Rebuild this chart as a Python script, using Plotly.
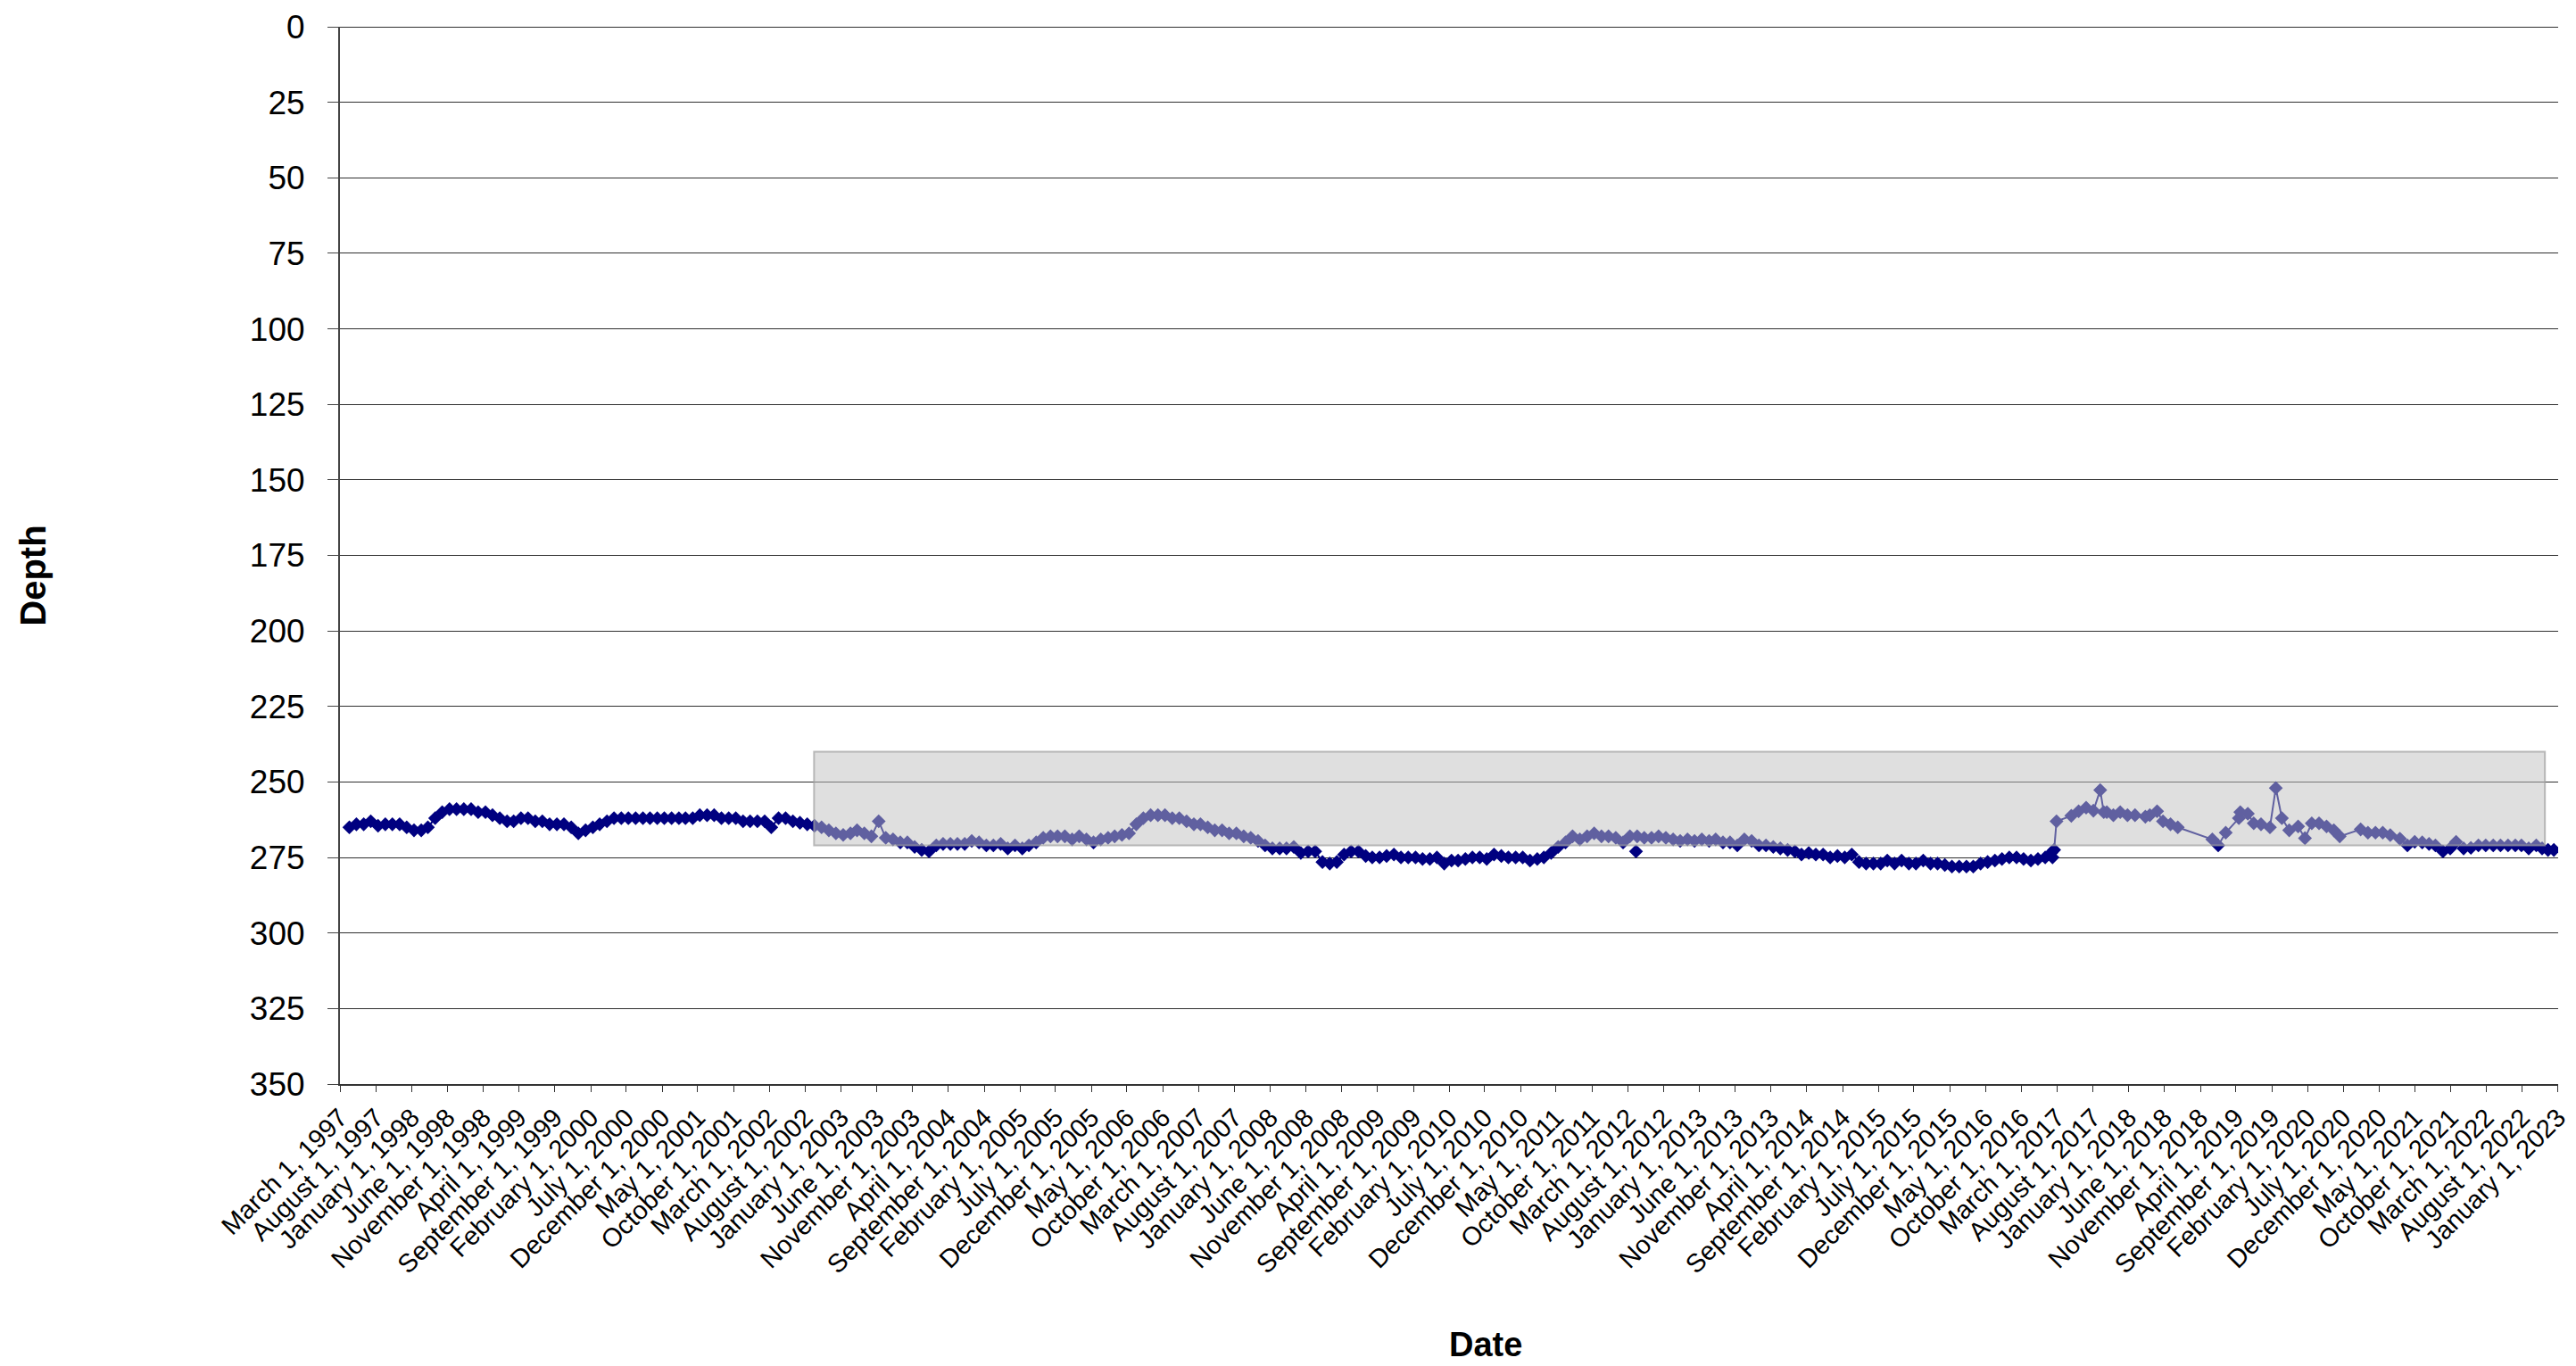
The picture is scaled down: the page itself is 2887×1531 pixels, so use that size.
import pandas as pd
import plotly.graph_objects as go

# ---------------- data ----------------
# Regular monthly readings, March 1997 .. January 2017
monthly_start = "1997-03-10"
depth_monthly = [
    265, 264, 264, 263, 264.5, 264, 264, 264, 265, 266, 266, 265, 262, 260, 259, 259, 259, 259, 260, 260,
    261, 262, 263, 263, 262, 262, 263, 263, 264, 264, 264, 265, 267, 266, 265, 264, 263, 262, 262, 262,
    262, 262, 262, 262, 262, 262, 262, 262, 262, 261, 261, 261, 262, 262, 262, 263, 263, 263, 263, 265,
    262, 262, 263, 263.5, 264, 264.5, 265, 266, 267, 267.5, 267, 266, 267, 268, 263, 268.5, 269, 270, 270, 271.5,
    272.5, 273, 271, 270.5, 270.5, 270.5, 270.5, 269.5, 270, 271, 271, 270.5, 272, 271, 272, 271, 270, 268.5, 268, 268,
    268, 269, 268, 269, 270, 269, 268.5, 268, 267.5, 267, 264, 262, 261, 261, 261, 262, 262, 263, 264, 264,
    265, 266, 266, 267, 267, 268, 268.5, 269.5, 271, 272, 272, 272, 271.5, 273.5, 273, 273, 276.5, 277, 276.5, 274,
    273, 273, 274.5, 275, 275, 274.5, 274, 275, 275, 275, 275.5, 275.5, 275, 277, 276, 276, 275.5, 275, 275, 275.5,
    274, 274.5, 275, 275, 275, 276, 275.5, 275, 273.5, 271.5, 270, 268, 269, 268, 267, 268, 268, 268.5, 270, 268,
    268, 268.5, 268.5, 268, 268.5, 269, 269.5, 269, 269.5, 269, 269.5, 269, 270, 270, 271, 269, 269.5, 271, 271, 271.5,
    272, 272.5, 273, 274, 273.5, 274, 274, 275, 274.5, 275, 274, 276.5, 277, 277, 277, 276, 277, 276, 277, 277,
    276, 277, 277, 277.5, 278, 278, 278, 278, 277, 276.5, 276, 275.5, 275, 275, 275.5, 276, 275.5, 275, 275,
]

# Irregular readings from 2017 onwards
dates_recent = [
    "2017-02-04", "2017-02-17", "2017-02-27", "2017-05-01", "2017-06-01", "2017-07-03", "2017-08-03",
    "2017-09-01", "2017-09-16", "2017-09-29", "2017-10-27", "2017-11-25", "2017-12-26", "2018-01-27",
    "2018-03-12", "2018-03-31", "2018-05-01", "2018-05-26", "2018-06-27", "2018-07-28", "2018-12-22",
    "2019-01-16", "2019-02-17", "2019-04-14", "2019-04-20", "2019-05-22", "2019-06-16", "2019-07-17",
    "2019-08-24", "2019-09-18", "2019-10-14", "2019-11-14", "2019-12-22", "2020-01-20", "2020-02-18",
    "2020-03-20", "2020-04-21", "2020-05-22", "2020-06-16", "2020-09-13", "2020-10-14", "2020-11-15",
    "2020-12-16", "2021-01-17", "2021-02-27", "2021-03-31", "2021-05-01", "2021-06-02", "2021-07-01",
    "2021-07-28", "2021-08-29", "2021-09-29", "2021-10-24", "2021-11-25", "2021-12-26", "2022-01-27",
    "2022-02-27", "2022-03-31", "2022-05-01", "2022-06-02", "2022-07-03", "2022-07-29", "2022-08-29",
    "2022-09-30", "2022-10-25", "2022-11-19", "2022-12-14",
]
depth_recent = [
    273.5, 272.5, 263, 261.2, 259.7, 258.5, 259.5,
    252.7, 260, 260, 261, 260, 261, 261,
    261.5, 261, 259.7, 263, 264, 265, 269,
    271, 266.8, 262, 260, 260.5, 263.7, 264,
    265, 252, 262, 266, 264.7, 268.6, 263.7,
    263.7, 264.7, 266, 268, 265.7, 266.8, 266.8,
    266.8, 267.6, 268.8, 271, 269.8, 270, 270.5,
    271, 273, 272, 269.8, 272, 271.8, 271,
    271, 271, 271, 271, 271, 271, 272,
    271, 272, 272.5, 272.5,
]

# Stand-alone reading (not joined to the line)
outlier_dates = ["2012-04-05"]
outlier_depths = [273]

# Shaded band
band_start, band_end = "2002-09-08", "2022-11-06"
band_top, band_bottom = 240, 271

# Axis ticks
tick_dates = pd.date_range("1997-03-01", "2023-01-01", freq="5MS")
tick_labels = [d.strftime("%B ") + str(d.day) + d.strftime(", %Y") for d in tick_dates]
y_ticks = list(range(0, 351, 25))

# ---------------- figure ----------------
dates_monthly = pd.date_range(monthly_start, periods=len(depth_monthly), freq="MS") + pd.Timedelta(days=9)
x_all = list(dates_monthly.strftime("%Y-%m-%d")) + dates_recent
y_all = depth_monthly + depth_recent

NAVY = "#000080"
FONT = "Arial, Liberation Sans, sans-serif"

fig = go.Figure()
fig.add_trace(go.Scatter(
    x=x_all, y=y_all, mode="lines+markers",
    line=dict(color=NAVY, width=2),
    marker=dict(symbol="diamond", size=12, color=NAVY, line=dict(width=0)),
    showlegend=False,
))
fig.add_trace(go.Scatter(
    x=outlier_dates, y=outlier_depths, mode="markers",
    marker=dict(symbol="diamond", size=12, color=NAVY, line=dict(width=0)),
    showlegend=False,
))

fig.add_shape(
    type="rect", xref="x", yref="y",
    x0=band_start, x1=band_end, y0=band_top, y1=band_bottom,
    fillcolor="rgba(192,192,192,0.5)",
    line=dict(color="rgba(160,160,160,0.7)", width=2),
    layer="above",
)

fig.update_layout(
    width=2887, height=1531,
    margin=dict(l=381, r=20, t=30, b=316, autoexpand=False),
    paper_bgcolor="white", plot_bgcolor="white",
    font=dict(family=FONT, color="black"),
    xaxis=dict(
        type="date",
        range=["1997-03-01", "2023-01-01 06:00"],
        tickvals=list(tick_dates.strftime("%Y-%m-%d")),
        ticktext=tick_labels,
        tickangle=-45,
        tickfont=dict(size=29, family=FONT),
        ticklabeloverflow="allow",
        showgrid=False,
        showline=True, linecolor="#333333", linewidth=2,
        ticks="outside", ticklen=7, tickcolor="#333333",
        zeroline=False,
        automargin=False,
    ),
    yaxis=dict(
        range=[350, 0],
        tickvals=y_ticks,
        tickfont=dict(size=37, family=FONT),
        showgrid=True, gridcolor="#303030", gridwidth=1,
        showline=True, linecolor="#444444", linewidth=2,
        ticks="outside", ticklen=12, tickcolor="#444444",
        ticklabelstandoff=18,
        zeroline=True, zerolinecolor="#303030", zerolinewidth=1,
        automargin=False,
    ),
    annotations=[
        dict(text="<b>Depth</b>", xref="paper", yref="paper", x=-0.1385, y=0.481,
             textangle=-90, showarrow=False, font=dict(size=40, family=FONT),
             xanchor="center", yanchor="middle"),
        dict(text="<b>Date</b>", xref="paper", yref="paper", x=0.5166, y=-0.2655,
             showarrow=False, font=dict(size=38, family=FONT),
             xanchor="center", yanchor="bottom"),
    ],
)

fig.write_html(
    "out.html",
    config={"displayModeBar": False},
    post_script="document.body.style.margin='0';document.body.style.overflow='hidden';",
)
